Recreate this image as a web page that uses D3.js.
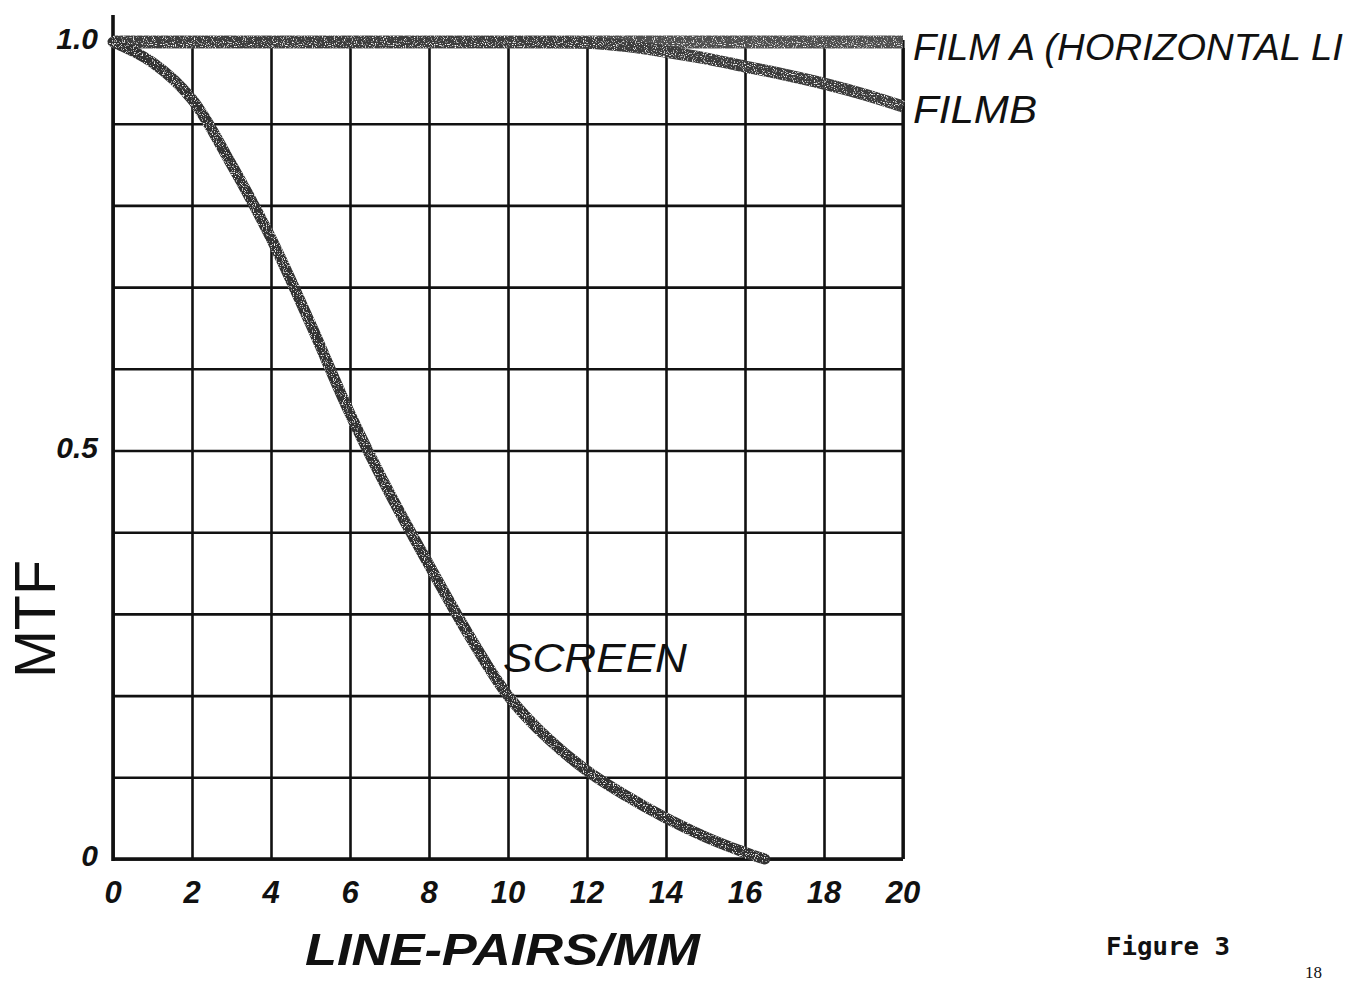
<!DOCTYPE html>
<html>
<head>
<meta charset="utf-8">
<script src="https://cdn.jsdelivr.net/npm/d3@7"></script>
<style>
  html, body { margin: 0; padding: 0; background: #fff; }
  svg { display: block; }
  .hand { font-family: "Liberation Sans", "DejaVu Sans", sans-serif; font-style: italic; fill: #111; }
</style>
</head>
<body>
<svg id="chart" width="1355" height="983"></svg>
<script>
// Spatial frequency (line pairs per mm) and MTF readings for each curve
const xTicks = [0, 2, 4, 6, 8, 10, 12, 14, 16, 18, 20];
const yGrid = [0, 0.1, 0.2, 0.3, 0.4, 0.5, 0.6, 0.7, 0.8, 0.9, 1.0];
const yTickValues = [0, 0.5, 1.0];
const yTickLabels = ["0", "0.5", "1.0"];

const filmAFreq = [0, 4, 8, 12, 16, 20];
const filmAMtf  = [1.0, 1.0, 1.0, 1.0, 1.0, 1.0];

const filmBFreq = [0, 4, 8, 10, 12, 13, 14, 15, 16, 17, 18, 19, 20];
const filmBMtf  = [1.0, 1.0, 1.0, 1.0, 0.999, 0.995, 0.988, 0.98, 0.97, 0.96, 0.949, 0.936, 0.921];

const screenFreq = [0, 1, 2, 3, 4, 5, 6, 7, 8, 9, 10, 11, 12, 13, 14, 15, 16, 16.5];
const screenMtf  = [1.0, 0.975, 0.93, 0.85, 0.76, 0.655, 0.545, 0.448, 0.36, 0.275, 0.2, 0.148, 0.108, 0.077, 0.05, 0.027, 0.008, 0.0];

const svg = d3.select("#chart");

const x = d3.scaleLinear().domain([0, 20]).range([113, 903]);
const y = d3.scaleLinear().domain([0, 1]).range([859, 42]);

// Speckled ink texture for the thick curve bands
const defs = svg.append("defs");
const grain = defs.append("filter").attr("id", "grain")
  .attr("x", "-5%").attr("y", "-5%").attr("width", "110%").attr("height", "110%");
grain.append("feTurbulence").attr("type", "fractalNoise")
  .attr("baseFrequency", 0.9).attr("numOctaves", 1).attr("seed", 3).attr("result", "noise");
grain.append("feColorMatrix").attr("in", "noise").attr("type", "matrix")
  .attr("values", "0 0 0 0 1  0 0 0 0 1  0 0 0 0 1  5 0 0 0 -2.8").attr("result", "specks");
grain.append("feComposite").attr("in", "specks").attr("in2", "SourceGraphic")
  .attr("operator", "in").attr("result", "inner");
const merge = grain.append("feMerge");
merge.append("feMergeNode").attr("in", "SourceGraphic");
merge.append("feMergeNode").attr("in", "inner");

// Grid: vertical lines every 2 lp/mm, horizontal every 0.1 MTF
const gridV = d3.axisBottom(x).tickValues(xTicks).tickSize(-(y(0) - y(1.0) - 6)).tickFormat("");
svg.append("g").attr("class", "grid-v")
  .attr("transform", `translate(0,${y(0)})`)
  .call(gridV)
  .call(g => g.select(".domain").remove())
  .call(g => g.selectAll("line").attr("stroke", "#111").attr("stroke-width", 2.6));

const gridH = d3.axisLeft(y).tickValues(yGrid).tickSize(-(x(20) - x(0))).tickFormat("");
svg.append("g").attr("class", "grid-h")
  .attr("transform", `translate(${x(0)},0)`)
  .call(gridH)
  .call(g => g.select(".domain").remove())
  .call(g => g.selectAll("line").attr("stroke", "#111").attr("stroke-width", 2.6));

// Heavier axis lines: left axis rises above the top of the grid
svg.append("line")
  .attr("x1", x(0)).attr("x2", x(0)).attr("y1", y(1.0) - 27).attr("y2", y(0) + 2)
  .attr("stroke", "#111").attr("stroke-width", 3.6);
svg.append("line")
  .attr("x1", x(0)).attr("x2", x(20)).attr("y1", y(0)).attr("y2", y(0))
  .attr("stroke", "#111").attr("stroke-width", 3.4);
svg.append("line")
  .attr("x1", x(20)).attr("x2", x(20)).attr("y1", y(1.0) - 2).attr("y2", y(0))
  .attr("stroke", "#111").attr("stroke-width", 3.2);

// Curves
const line = (xs, ys) => d3.line()
  .x((d, i) => x(xs[i])).y((d, i) => y(ys[i]))
  .curve(d3.curveCatmullRom.alpha(0.5))(xs);

const curves = svg.append("g").attr("filter", "url(#grain)");
curves.append("path").attr("d", line(filmAFreq, filmAMtf))
  .attr("fill", "none").attr("stroke", "#505050").attr("stroke-width", 13).attr("stroke-linecap", "butt");
curves.append("path").attr("d", line(filmBFreq, filmBMtf))
  .attr("fill", "none").attr("stroke", "#3c3c3c").attr("stroke-width", 12).attr("stroke-linecap", "butt");
curves.append("path").attr("d", line(screenFreq, screenMtf))
  .attr("fill", "none").attr("stroke", "#333").attr("stroke-width", 11).attr("stroke-linecap", "round");

// Tick labels
svg.append("g").selectAll("text").data(xTicks).join("text")
  .attr("class", "hand")
  .attr("x", d => x(d)).attr("y", 903)
  .attr("text-anchor", "middle")
  .attr("font-size", 31).attr("font-weight", "bold")
  .text(d => d);

svg.append("g").selectAll("text").data(yTickValues).join("text")
  .attr("class", "hand")
  .attr("x", 98).attr("y", d => y(d) + 7)
  .attr("text-anchor", "end")
  .attr("font-size", 30).attr("font-weight", "bold")
  .text((d, i) => yTickLabels[i]);

// Axis titles
svg.append("text").attr("class", "hand")
  .attr("x", 305).attr("y", 965)
  .attr("font-size", 44).attr("font-weight", "bold")
  .attr("textLength", 395).attr("lengthAdjust", "spacingAndGlyphs")
  .text("LINE-PAIRS/MM");

svg.append("text")
  .attr("transform", "translate(55,619) rotate(-90)")
  .attr("text-anchor", "middle")
  .attr("font-family", "Liberation Sans, DejaVu Sans, sans-serif")
  .attr("font-size", 57).attr("fill", "#111")
  .attr("textLength", 118).attr("lengthAdjust", "spacingAndGlyphs")
  .text("MTF");

// Curve labels
svg.append("text").attr("class", "hand")
  .attr("x", 503).attr("y", 672)
  .attr("font-size", 40)
  .attr("textLength", 184).attr("lengthAdjust", "spacingAndGlyphs")
  .text("SCREEN");

svg.append("text").attr("class", "hand")
  .attr("x", 913).attr("y", 60)
  .attr("font-size", 37)
  .attr("textLength", 430).attr("lengthAdjust", "spacingAndGlyphs")
  .text("FILM A (HORIZONTAL LI");

svg.append("text").attr("class", "hand")
  .attr("x", 913).attr("y", 123)
  .attr("font-size", 38)
  .attr("textLength", 124).attr("lengthAdjust", "spacingAndGlyphs")
  .text("FILMB");

// Caption and page number
svg.append("text")
  .attr("x", 1106).attr("y", 955)
  .attr("font-family", "DejaVu Sans Mono, Liberation Mono, monospace")
  .attr("font-size", 24).attr("font-weight", "bold").attr("fill", "#111")
  .attr("textLength", 124).attr("lengthAdjust", "spacingAndGlyphs")
  .text("Figure 3");

svg.append("text")
  .attr("x", 1305).attr("y", 978)
  .attr("font-family", "Liberation Serif, DejaVu Serif, serif")
  .attr("font-size", 17).attr("fill", "#111")
  .text("18");
</script>
</body>
</html>
